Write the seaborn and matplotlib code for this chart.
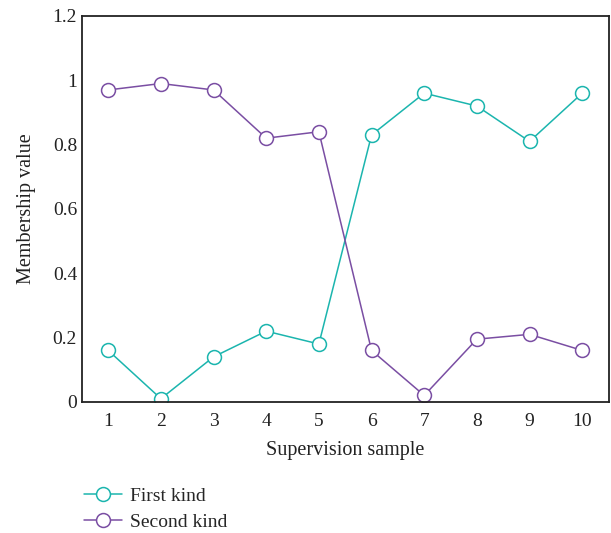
import numpy as np
import pandas as pd
import matplotlib
matplotlib.use("Agg")
import matplotlib.pyplot as plt
import seaborn as sns

# data
samples = [1, 2, 3, 4, 5, 6, 7, 8, 9, 10]
first_kind = [0.16, 0.01, 0.14, 0.22, 0.18, 0.83, 0.96, 0.92, 0.81, 0.96]
second_kind = [0.97, 0.99, 0.97, 0.82, 0.84, 0.16, 0.02, 0.195, 0.21, 0.16]
y_ticks = [0, 0.2, 0.4, 0.6, 0.8, 1, 1.2]
y_labels = ["0", "0.2", "0.4", "0.6", "0.8", "1", "1.2"]

df = pd.DataFrame({
    "sample": samples * 2,
    "value": first_kind + second_kind,
    "kind": ["First kind"] * len(samples) + ["Second kind"] * len(samples),
})

sns.set_style("white")
plt.rcParams["font.family"] = ["Liberation Serif", "DejaVu Serif"]

fig = plt.figure(figsize=(6.11, 5.33), dpi=100)
ax = fig.add_axes([0.134, 0.246, 0.862, 0.724])

palette = {"First kind": "#1bb5ae", "Second kind": "#7a4ea3"}
sns.lineplot(data=df, x="sample", y="value", hue="kind", palette=palette,
             marker="o", markersize=10, markerfacecolor="white",
             markeredgewidth=1.1, linewidth=1.1, ax=ax)
for line in ax.lines:
    line.set_markeredgecolor(line.get_color())

ax.set_xlim(0.5, 10.5)
ax.set_ylim(0, 1.2)
ax.set_xticks(samples)
ax.set_yticks(y_ticks)
ax.set_yticklabels(y_labels)
ax.tick_params(axis="both", labelsize=14, colors="#222222", direction="in", length=4)
ax.tick_params(axis="x", length=0, pad=8)
ax.set_xlabel("Supervision sample", fontsize=14.5, color="#222222", labelpad=8)
ax.set_ylabel("Membership value", fontsize=14.5, color="#222222", labelpad=12)
for s in ax.spines.values():
    s.set_color("#222222")
    s.set_linewidth(1.3)

handles, labels = ax.get_legend_handles_labels()
for h in handles:
    h.set_markeredgecolor(h.get_color())
    h.set_markerfacecolor("white")
ax.legend(handles, labels, loc="upper left", bbox_to_anchor=(-0.03, -0.175),
          frameon=False, fontsize=14, handlelength=2.0, handletextpad=0.4,
          labelspacing=0.45)

fig.savefig("out.png", dpi=100)
